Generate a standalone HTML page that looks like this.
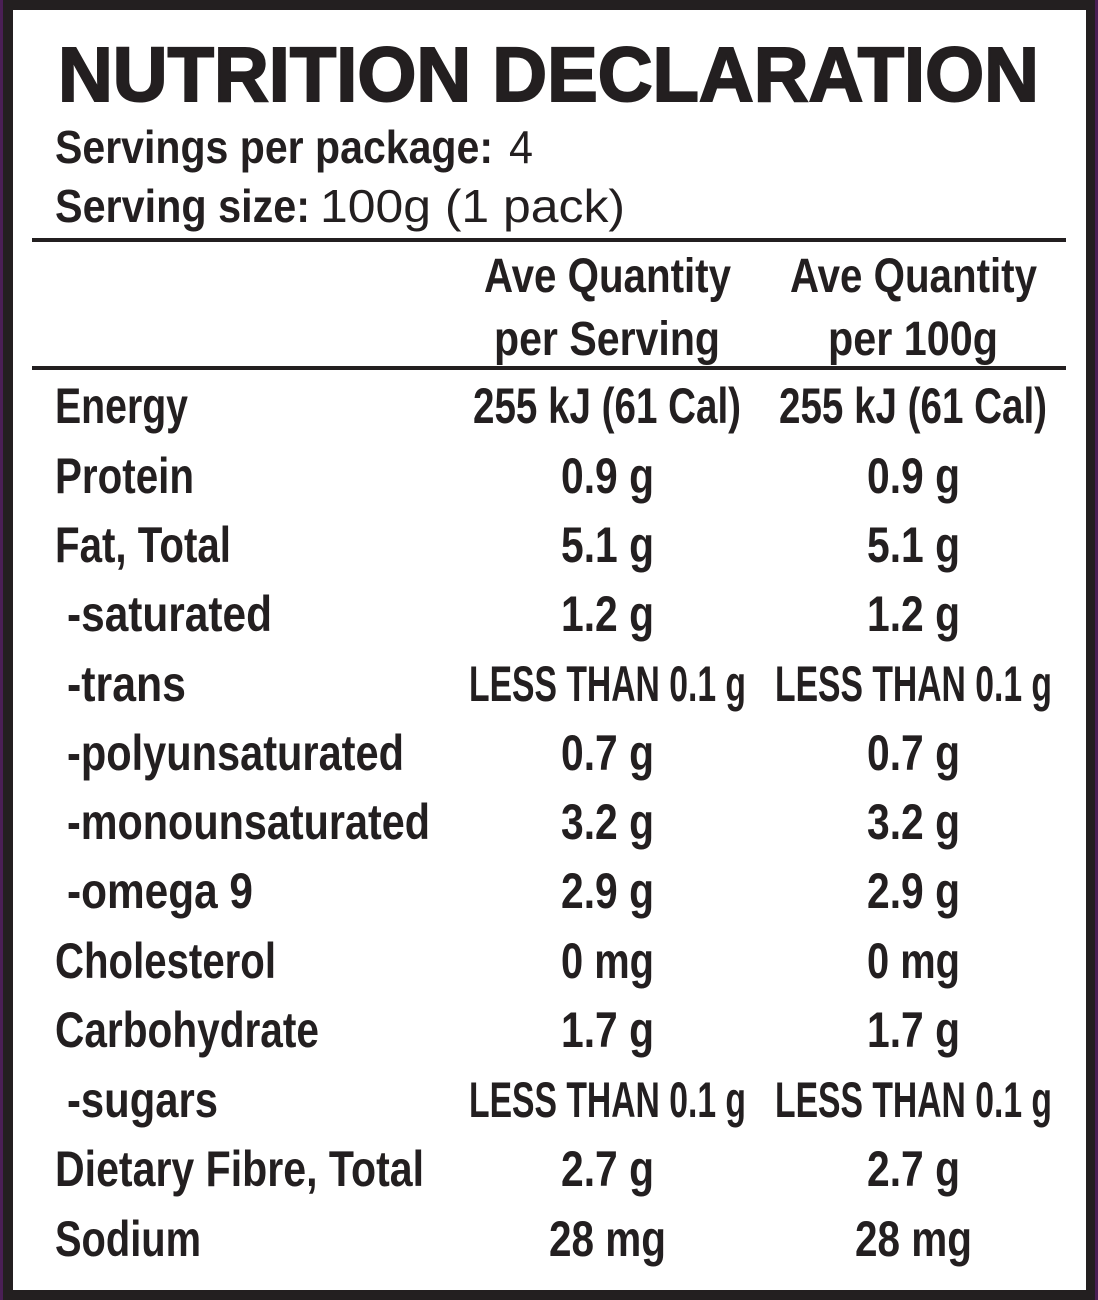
<!DOCTYPE html>
<html><head><meta charset="utf-8"><style>
html,body{margin:0;padding:0;background:#fff}
svg{display:block}
text{font-family:"Liberation Sans",sans-serif;font-weight:bold;fill:#231f20}
</style></head><body>
<svg width="1098" height="1300" viewBox="0 0 1098 1300" xmlns="http://www.w3.org/2000/svg">
<rect x="0" y="0" width="1098" height="1300" fill="#231f20"/>
<rect x="0" y="0" width="3" height="1300" fill="#4a1f55"/>
<rect x="1095" y="0" width="3" height="1300" fill="#4a1f55"/>
<rect x="13" y="10" width="1073" height="1280" fill="#fff"/>
<g>
<text x="58" y="101" font-size="77" stroke="#231f20" stroke-width="2" textLength="981" lengthAdjust="spacingAndGlyphs">NUTRITION DECLARATION</text>
<text x="55" y="163" font-size="46" textLength="438" lengthAdjust="spacingAndGlyphs">Servings per package:</text>
<text x="509" y="163" font-size="46" style="font-weight:normal" textLength="24" lengthAdjust="spacingAndGlyphs">4</text>
<text x="55" y="222" font-size="46" textLength="255" lengthAdjust="spacingAndGlyphs">Serving size:</text>
<text x="320" y="222" font-size="46" style="font-weight:normal" textLength="305" lengthAdjust="spacingAndGlyphs">100g (1 pack)</text>
<rect x="32" y="238" width="1034" height="4" fill="#231f20"/>
<text x="484" y="292" font-size="48" textLength="247" lengthAdjust="spacingAndGlyphs">Ave Quantity</text>
<text x="494" y="355" font-size="48" textLength="226" lengthAdjust="spacingAndGlyphs">per Serving</text>
<text x="790" y="292" font-size="48" textLength="247" lengthAdjust="spacingAndGlyphs">Ave Quantity</text>
<text x="828" y="355" font-size="48" textLength="170" lengthAdjust="spacingAndGlyphs">per 100g</text>
<rect x="32" y="366" width="1034" height="4" fill="#231f20"/>
</g>
<g font-size="50">
<text x="55" y="423" textLength="133" lengthAdjust="spacingAndGlyphs">Energy</text>
<text x="55" y="493" textLength="139" lengthAdjust="spacingAndGlyphs">Protein</text>
<text x="55" y="562" textLength="176" lengthAdjust="spacingAndGlyphs">Fat, Total</text>
<text x="67" y="631" textLength="205" lengthAdjust="spacingAndGlyphs">-saturated</text>
<text x="67" y="701" textLength="119" lengthAdjust="spacingAndGlyphs">-trans</text>
<text x="67" y="770" textLength="337" lengthAdjust="spacingAndGlyphs">-polyunsaturated</text>
<text x="67" y="839" textLength="363" lengthAdjust="spacingAndGlyphs">-monounsaturated</text>
<text x="67" y="908" textLength="186" lengthAdjust="spacingAndGlyphs">-omega 9</text>
<text x="55" y="978" textLength="221" lengthAdjust="spacingAndGlyphs">Cholesterol</text>
<text x="55" y="1047" textLength="264" lengthAdjust="spacingAndGlyphs">Carbohydrate</text>
<text x="67" y="1117" textLength="151" lengthAdjust="spacingAndGlyphs">-sugars</text>
<text x="55" y="1186" textLength="369" lengthAdjust="spacingAndGlyphs">Dietary Fibre, Total</text>
<text x="55" y="1256" textLength="146" lengthAdjust="spacingAndGlyphs">Sodium</text>

<text x="473" y="423" textLength="268" lengthAdjust="spacingAndGlyphs">255 kJ (61 Cal)</text>
<text x="779" y="423" textLength="268" lengthAdjust="spacingAndGlyphs">255 kJ (61 Cal)</text>
<text x="561" y="493" textLength="93" lengthAdjust="spacingAndGlyphs">0.9 g</text>
<text x="867" y="493" textLength="93" lengthAdjust="spacingAndGlyphs">0.9 g</text>
<text x="561" y="562" textLength="93" lengthAdjust="spacingAndGlyphs">5.1 g</text>
<text x="867" y="562" textLength="93" lengthAdjust="spacingAndGlyphs">5.1 g</text>
<text x="561" y="631" textLength="93" lengthAdjust="spacingAndGlyphs">1.2 g</text>
<text x="867" y="631" textLength="93" lengthAdjust="spacingAndGlyphs">1.2 g</text>
<text x="469" y="701" textLength="277" lengthAdjust="spacingAndGlyphs">LESS THAN 0.1 g</text>
<text x="775" y="701" textLength="277" lengthAdjust="spacingAndGlyphs">LESS THAN 0.1 g</text>
<text x="561" y="770" textLength="93" lengthAdjust="spacingAndGlyphs">0.7 g</text>
<text x="867" y="770" textLength="93" lengthAdjust="spacingAndGlyphs">0.7 g</text>
<text x="561" y="839" textLength="93" lengthAdjust="spacingAndGlyphs">3.2 g</text>
<text x="867" y="839" textLength="93" lengthAdjust="spacingAndGlyphs">3.2 g</text>
<text x="561" y="908" textLength="93" lengthAdjust="spacingAndGlyphs">2.9 g</text>
<text x="867" y="908" textLength="93" lengthAdjust="spacingAndGlyphs">2.9 g</text>
<text x="561" y="978" textLength="93" lengthAdjust="spacingAndGlyphs">0 mg</text>
<text x="867" y="978" textLength="93" lengthAdjust="spacingAndGlyphs">0 mg</text>
<text x="561" y="1047" textLength="93" lengthAdjust="spacingAndGlyphs">1.7 g</text>
<text x="867" y="1047" textLength="93" lengthAdjust="spacingAndGlyphs">1.7 g</text>
<text x="469" y="1117" textLength="277" lengthAdjust="spacingAndGlyphs">LESS THAN 0.1 g</text>
<text x="775" y="1117" textLength="277" lengthAdjust="spacingAndGlyphs">LESS THAN 0.1 g</text>
<text x="561" y="1186" textLength="93" lengthAdjust="spacingAndGlyphs">2.7 g</text>
<text x="867" y="1186" textLength="93" lengthAdjust="spacingAndGlyphs">2.7 g</text>
<text x="549" y="1256" textLength="117" lengthAdjust="spacingAndGlyphs">28 mg</text>
<text x="855" y="1256" textLength="117" lengthAdjust="spacingAndGlyphs">28 mg</text>
</g>
</svg>
</body></html>
